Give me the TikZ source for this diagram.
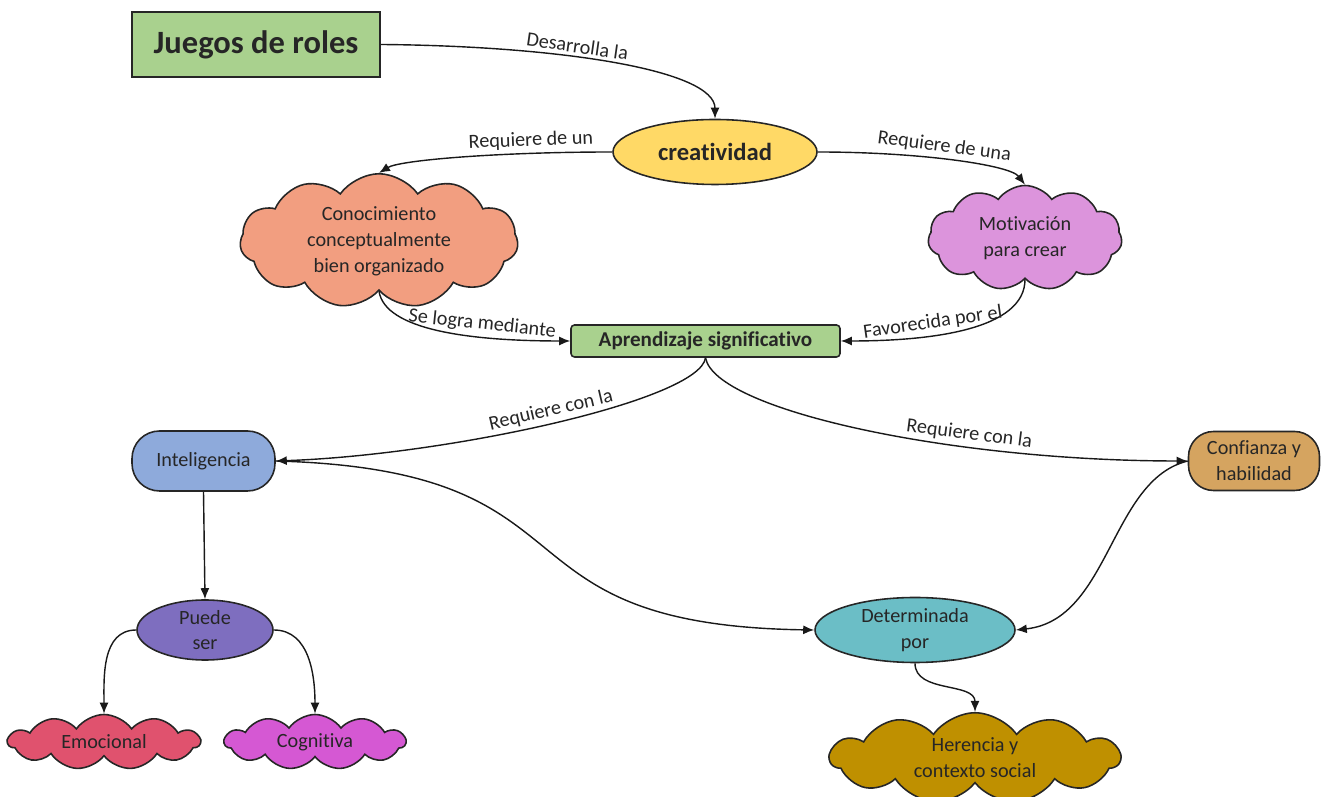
\documentclass[tikz,border=0pt]{standalone}
\usepackage{fontspec}
\setmainfont{Carlito}[Ligatures=CommonOff]
\usepackage{tikz}
\usetikzlibrary{arrows.meta,positioning,shapes.geometric,shapes.symbols}

\definecolor{cmgreen}{HTML}{A9D18E}
\definecolor{cmyellow}{HTML}{FFD966}
\definecolor{cmsalmon}{HTML}{F29E80}
\definecolor{cmviolet}{HTML}{DC94DC}
\definecolor{cmblue}{HTML}{8EAADB}
\definecolor{cmtan}{HTML}{D5A460}
\definecolor{cmpurple}{HTML}{7E6EBF}
\definecolor{cmteal}{HTML}{6BBEC6}
\definecolor{cmrose}{HTML}{E0526E}
\definecolor{cmmagenta}{HTML}{D558D3}
\definecolor{cmgold}{HTML}{BF9000}

\begin{document}
\begin{tikzpicture}[>={Latex[length=2.2mm,width=1.8mm]},
  every node/.style={font=\fontsize{11.5}{14.7}\selectfont,text=black!85},
  cm_box/.style={draw=black!85,line width=0.9pt,align=center,inner sep=2pt},
  cm_oval/.style={cm_box,ellipse,inner sep=0pt},
  cm_cloud/.style={cm_box,cloud,cloud puffs=11,cloud puff arc=110,cloud ignores aspect},
  cm_lbl/.style={sloped,above,inner sep=2pt},
  cm_arr/.style={->,line width=0.8pt,black!90}]
\useasboundingbox (0,0) rectangle (26.42,15.94);
% nodes
\node[cm_box,fill=cmgreen,minimum width=4.96cm,minimum height=1.30cm,font=\fontsize{18.5}{20}\selectfont\bfseries] (cm_juegos) at (5.12,15.05) {Juegos de roles};
\node[cm_oval,fill=cmyellow,minimum width=4.08cm,minimum height=1.30cm,font=\fontsize{14}{16}\selectfont\bfseries] (cm_crea) at (14.30,12.90) {creatividad};
\node[cm_cloud,fill=cmsalmon,minimum width=5.56cm,minimum height=1.90cm] (cm_conoc) at (7.58,11.12) {Conocimiento\\conceptualmente\\bien organizado};
\node[cm_cloud,fill=cmviolet,minimum width=3.88cm,minimum height=2.10cm] (cm_motiv) at (20.50,11.18) {Motivación\\para crear};
\node[cm_box,fill=cmgreen,rounded corners=2pt,minimum width=5.38cm,minimum height=0.64cm,font=\fontsize{12}{14}\selectfont\bfseries] (cm_apren) at (14.11,9.12) {Aprendizaje significativo};
\node[cm_box,fill=cmblue,rounded corners=0.55cm,minimum width=2.86cm,minimum height=1.20cm] (cm_intel) at (4.07,6.72) {Inteligencia};
\node[cm_box,fill=cmtan,rounded corners=0.5cm,minimum width=2.62cm,minimum height=1.18cm] (cm_conf) at (25.08,6.72) {Confianza y\\habilidad};
\node[cm_oval,fill=cmpurple,minimum width=2.72cm,minimum height=1.20cm] (cm_puede) at (4.10,3.34) {Puede\\ser};
\node[cm_oval,fill=cmteal,minimum width=4.0cm,minimum height=1.30cm] (cm_det) at (18.30,3.34) {Determinada\\por};
\node[cm_cloud,fill=cmrose,minimum width=3.84cm,minimum height=1.10cm] (cm_emoc) at (2.08,1.10) {Emocional};
\node[cm_cloud,fill=cmmagenta,minimum width=3.62cm,minimum height=1.10cm] (cm_cogn) at (6.30,1.10) {Cognitiva};
\node[cm_cloud,fill=cmgold,minimum width=5.80cm,minimum height=1.54cm] (cm_heren) at (19.50,0.78) {Herencia y\\contexto social};
% links
\draw[cm_arr] (cm_juegos.east) .. controls (11.2,15.02) and (14.30,14.54) .. node[cm_lbl,pos=0.4] {Desarrolla la} (cm_crea.north);
\draw[cm_arr] (cm_crea.west) .. controls (10.0,12.9) and (8.0,12.74) .. node[cm_lbl,pos=0.25] {Requiere de un} (cm_conoc.north);
\draw[cm_arr] (cm_crea.east) .. controls (18.4,12.9) and (20.2,12.64) .. node[cm_lbl,pos=0.45] {Requiere de una} (cm_motiv.north);
\draw[cm_arr] (cm_conoc.south) .. controls (7.7,9.34) and (9.4,9.12) .. node[cm_lbl,pos=0.68] {Se logra mediante} (cm_apren.west);
\draw[cm_arr] (cm_motiv.south) .. controls (20.5,9.34) and (18.6,9.12) .. node[cm_lbl,pos=0.64] {Favorecida por el} (cm_apren.east);
\draw[cm_arr] (cm_apren.south) .. controls (14.0,7.94) and (9.0,6.84) .. node[cm_lbl,pos=0.5] {Requiere con la} (cm_intel.east);
\draw[cm_arr] (cm_apren.south) .. controls (14.3,7.74) and (19.0,6.72) .. node[cm_lbl,pos=0.68] {Requiere con la} (cm_conf.west);
\draw[cm_arr] (cm_intel.east) .. controls (12.2,6.54) and (9.6,3.44) .. (cm_det.west);
\draw[cm_arr] (cm_conf.west) .. controls (22.2,6.34) and (22.2,3.54) .. (cm_det.east);
\draw[cm_arr] (cm_intel.south) -- (cm_puede.north);
\draw[cm_arr] (cm_puede.west) to[out=180,in=90] (cm_emoc.north);
\draw[cm_arr] (cm_puede.east) to[out=0,in=90] (cm_cogn.north);
\draw[cm_arr] (cm_det.south) to[out=-90,in=90] (cm_heren.north);
\end{tikzpicture}
\end{document}
